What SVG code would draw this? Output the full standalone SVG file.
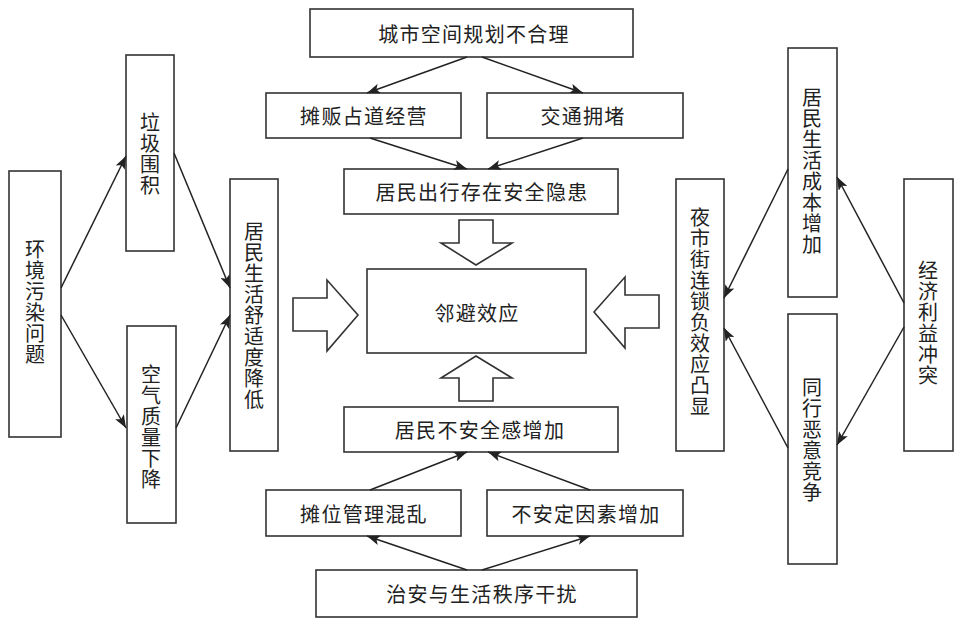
<svg xmlns="http://www.w3.org/2000/svg" width="959" height="621" viewBox="0 0 959 621">
<defs>
<style>
.box{fill:#fff;stroke:#333;stroke-width:1.6}
.t{font-family:"Noto Sans CJK SC","Noto Sans CJK JP",sans-serif;font-size:20px;fill:#222;text-anchor:middle;dominant-baseline:central}
.h{letter-spacing:1.3px}
.v{writing-mode:vertical-rl;letter-spacing:1px}
.c{fill:none;stroke:#222;stroke-width:1.5;marker-end:url(#ah)}
.blk{fill:#fff;stroke:#333;stroke-width:1.6;stroke-linejoin:miter}
</style>
<marker id="ah" markerUnits="userSpaceOnUse" markerWidth="14" markerHeight="10" refX="13" refY="5" orient="auto">
<path d="M0,0 L13,5 L0,10 L3,5 Z" fill="#222"/>
</marker>
</defs>
<rect width="959" height="621" fill="#fff"/>

<g id="n-env">
<rect class="box" x="9" y="171" width="52" height="266"/>
<text class="t v" x="35" y="302">环境污染问题</text>
</g>
<g id="n-garbage">
<rect class="box" x="126" y="55" width="48" height="196"/>
<text class="t v" x="150" y="154">垃圾围积</text>
</g>
<g id="n-air">
<rect class="box" x="127" y="326" width="49" height="197"/>
<text class="t v" x="151" y="427">空气质量下降</text>
</g>
<g id="n-comfort">
<rect class="box" x="230" y="179" width="48" height="272"/>
<text class="t v" x="254" y="316">居民生活舒适度降低</text>
</g>
<g id="n-plan">
<rect class="box" x="310" y="9" width="323" height="48"/>
<text class="t h" x="474" y="33">城市空间规划不合理</text>
</g>
<g id="n-vendor">
<rect class="box" x="266" y="93" width="195" height="45"/>
<text class="t h" x="364" y="115.5">摊贩占道经营</text>
</g>
<g id="n-traffic">
<rect class="box" x="487" y="93" width="196" height="45"/>
<text class="t h" x="583" y="115.5">交通拥堵</text>
</g>
<g id="n-travel">
<rect class="box" x="344" y="169" width="274" height="45"/>
<text class="t h" x="482" y="191.5">居民出行存在安全隐患</text>
</g>
<g id="n-nimby">
<rect class="box" x="367" y="269" width="219" height="84"/>
<text class="t h" x="477" y="312">邻避效应</text>
</g>
<g id="n-insecure">
<rect class="box" x="344" y="407" width="274" height="45"/>
<text class="t h" x="480" y="429.5">居民不安全感增加</text>
</g>
<g id="n-stall">
<rect class="box" x="266" y="490" width="195" height="46"/>
<text class="t h" x="364" y="513">摊位管理混乱</text>
</g>
<g id="n-unstable">
<rect class="box" x="487" y="490" width="196" height="46"/>
<text class="t h" x="586" y="513">不安定因素增加</text>
</g>
<g id="n-order">
<rect class="box" x="316" y="570" width="321" height="47"/>
<text class="t h" x="482" y="593.5">治安与生活秩序干扰</text>
</g>
<g id="n-cost">
<rect class="box" x="788" y="48" width="49" height="249"/>
<text class="t v" x="812" y="171">居民生活成本增加</text>
</g>
<g id="n-chain">
<rect class="box" x="676" y="179" width="48" height="272"/>
<text class="t v" x="700" y="312">夜市街连锁负效应凸显</text>
</g>
<g id="n-econ">
<rect class="box" x="904" y="179" width="49" height="272"/>
<text class="t v" x="928" y="323">经济利益冲突</text>
</g>
<g id="n-compete">
<rect class="box" x="788" y="314" width="49" height="250"/>
<text class="t v" x="812" y="440">同行恶意竞争</text>
</g>

<g id="connectors">
<line class="c" x1="61" y1="288" x2="126" y2="156"/>
<line class="c" x1="174" y1="153" x2="230" y2="288"/>
<line class="c" x1="61" y1="315" x2="126" y2="428"/>
<line class="c" x1="176" y1="428" x2="230" y2="315"/>
<line class="c" x1="467" y1="57" x2="367" y2="93"/>
<line class="c" x1="482" y1="57" x2="583" y2="93"/>
<line class="c" x1="370" y1="138" x2="467" y2="169"/>
<line class="c" x1="583" y1="138" x2="488" y2="169"/>
<line class="c" x1="370" y1="490" x2="467" y2="452"/>
<line class="c" x1="590" y1="490" x2="488" y2="452"/>
<line class="c" x1="467" y1="570" x2="367" y2="536"/>
<line class="c" x1="482" y1="570" x2="590" y2="536"/>
<line class="c" x1="788" y1="169" x2="724" y2="298"/>
<line class="c" x1="904" y1="303" x2="837" y2="177"/>
<line class="c" x1="904" y1="327" x2="837" y2="445"/>
<line class="c" x1="788" y1="448" x2="724" y2="328"/>
<polygon class="blk" points="459,220 493,220 493,243 512,243 476,265 441,243 459,243"/>
<polygon class="blk" points="476,356 512,378 493,378 493,401 459,401 459,378 441,378"/>
<polygon class="blk" points="293,298 327,298 327,280 358,315 327,351 327,331 293,331"/>
<polygon class="blk" points="594,312 625,277 625,295 659,295 659,328 625,328 625,348"/>
</g>
</svg>
